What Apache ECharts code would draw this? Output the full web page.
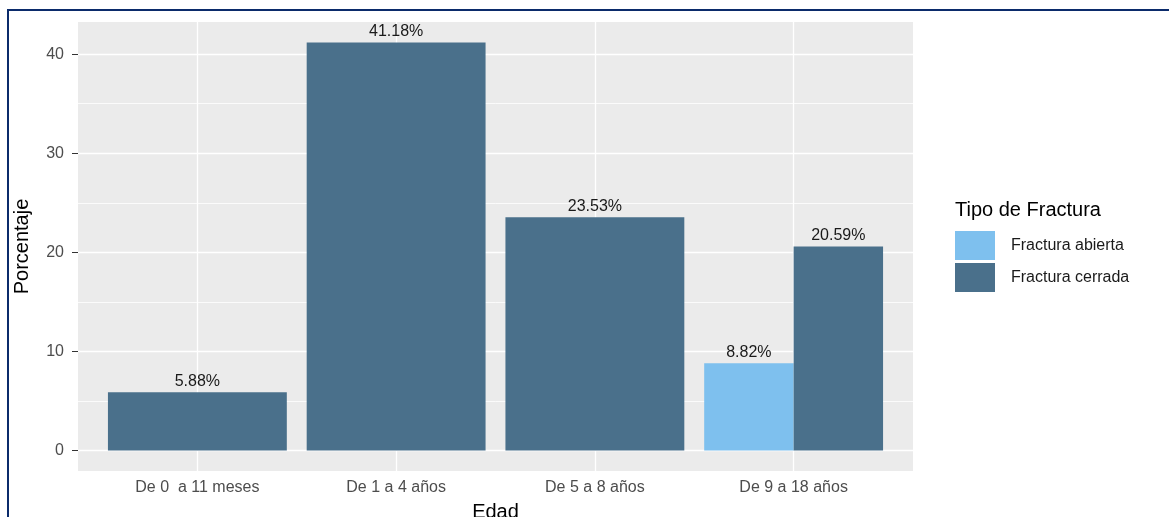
<!DOCTYPE html>
<html>
<head>
<meta charset="utf-8">
<title>Tipo de Fractura por Edad</title>
<script src="https://cdn.jsdelivr.net/npm/echarts@6/dist/echarts.min.js"></script>
<style>
  html, body { margin: 0; padding: 0; background: #fff; }
  #chart { width: 1169px; height: 517px; }
</style>
</head>
<body>
<div id="chart"></div>
<script>
// datos
const edades = ['De 0  a 11 meses', 'De 1 a 4 años', 'De 5 a 8 años', 'De 9 a 18 años'];
const tipos = ['Fractura abierta', 'Fractura cerrada'];
const abierta = [null, null, null, 8.82];
const cerrada = [5.88, 41.18, 23.53, 20.59];
const yTicks = [0, 10, 20, 30, 40];
const yMinor = [5, 15, 25, 35];

const colores = ['#7EC0EE', '#4A708B'];
const valores = [abierta, cerrada];
const fuente = '"Liberation Sans", Arial, sans-serif';

// rango del eje y como ggplot (expansion del 5%)
const yTop = Math.max(...cerrada, ...abierta.filter(v => v != null));
const pad = yTop * 0.05;
const yMin = -pad, yMax = yTop + pad;

// barras con "dodge": las que hay en cada edad se reparten el 90% de la banda
function barras(params, api) {
  const cat = api.value(0);
  const v = api.value(1);
  const grupo = valores.map((s, i) => s[cat] != null ? i : -1).filter(i => i >= 0);
  const slot = grupo.indexOf(params.seriesIndex);
  const ancho = api.size([1, 0])[0] * 0.9;
  const w = ancho / grupo.length;
  const base = api.coord([cat, 0]);
  const tope = api.coord([cat, v]);
  return {
    type: 'rect',
    shape: { x: base[0] - ancho / 2 + slot * w, y: tope[1], width: w, height: base[1] - tope[1] },
    style: { fill: api.visual('color') },
    textContent: {
      style: { text: v.toFixed(2) + '%', fill: '#1a1a1a', fontSize: 16, fontFamily: fuente }
    },
    textConfig: { position: 'top', distance: 3 }
  };
}

const chart = echarts.init(document.getElementById('chart'));

chart.setOption({
  animation: false,
  textStyle: { fontFamily: fuente },
  title: {
    text: 'Tipo de Fractura',
    left: 950,
    top: 195,
    textStyle: { fontSize: 20, fontWeight: 'normal', color: '#000', fontFamily: fuente }
  },
  legend: {
    data: tipos,
    orient: 'vertical',
    left: 950,
    top: 226,
    icon: 'rect',
    itemWidth: 40,
    itemHeight: 29,
    itemGap: 3,
    textStyle: { fontSize: 16, color: '#1a1a1a', padding: [0, 0, 0, 11] }
  },
  grid: [
    // area de barras (sin el margen extra de ggplot)
    { left: 98, top: 22, width: 795, height: 449, show: false, outerBoundsMode: 'none' },
    // panel gris completo
    { left: 78, top: 22, width: 835, height: 449, show: true, backgroundColor: '#EBEBEB',
      borderWidth: 0, outerBoundsMode: 'none' }
  ],
  xAxis: [
    {
      gridIndex: 1, type: 'category', data: edades, show: false,
      axisLine: { onZero: false }
    },
    {
      // lineas verticales blancas en el centro de cada edad
      gridIndex: 0, type: 'category', data: edades, position: 'top', z: 1,
      axisLine: { show: false, onZero: false },
      axisLabel: { show: false },
      axisTick: { show: true, inside: true, alignWithLabel: true, length: 449,
        lineStyle: { color: '#fff', width: 1.3 } },
      splitLine: { show: false }
    },
    {
      gridIndex: 0, type: 'category', data: edades, position: 'bottom', z: 1,
      axisLine: { show: false, onZero: false },
      axisTick: { alignWithLabel: true, length: 5, lineStyle: { color: '#333' } },
      axisLabel: { color: '#4D4D4D', fontSize: 16, margin: 9 },
      splitLine: { show: false },
      name: 'Edad',
      nameLocation: 'middle',
      nameGap: 31,
      nameTextStyle: { fontSize: 20, color: '#000' }
    }
  ],
  yAxis: [
    {
      gridIndex: 1, type: 'value', position: 'left', min: yMin, max: yMax, z: 1,
      axisLine: { show: false, onZero: false },
      axisTick: { show: true, length: 6, lineStyle: { color: '#333' }, customValues: yTicks },
      axisLabel: { color: '#4D4D4D', fontSize: 16, margin: 14, customValues: yTicks },
      splitLine: { show: true, lineStyle: { color: '#fff', width: 1.3 } },
      name: 'Porcentaje',
      nameLocation: 'middle',
      nameGap: 46,
      nameTextStyle: { fontSize: 20, color: '#000' }
    },
    {
      // lineas menores
      gridIndex: 1, type: 'value', position: 'right', min: yMin, max: yMax, z: 1,
      axisLine: { show: false, onZero: false },
      axisTick: { show: false, customValues: yMinor },
      axisLabel: { show: false, customValues: yMinor },
      splitLine: { show: true, lineStyle: { color: '#fff', width: 0.8 } }
    },
    {
      gridIndex: 0, type: 'value', min: yMin, max: yMax, show: false,
      axisLine: { onZero: false },
      splitLine: { show: false }
    }
  ],
  series: tipos.map((nombre, i) => ({
    name: nombre,
    type: 'custom',
    xAxisIndex: 2,
    yAxisIndex: 2,
    itemStyle: { color: colores[i] },
    renderItem: barras,
    encode: { x: 0, y: 1 },
    data: valores[i].map((v, j) => [j, v]).filter(d => d[1] != null)
  })),
  graphic: [
    {
      type: 'rect',
      z: 10,
      shape: { x: 8, y: 10, width: 1200, height: 600 },
      style: { fill: 'none', stroke: '#0B2B6B', lineWidth: 2 }
    }
  ]
});
</script>
</body>
</html>
